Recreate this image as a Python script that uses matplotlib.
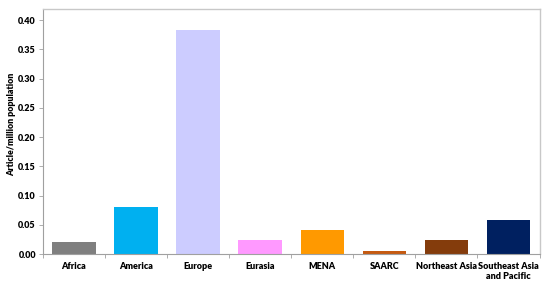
import matplotlib.pyplot as plt
import numpy as np

regions = ["Africa", "America", "Europe", "Eurasia", "MENA", "SAARC",
           "Northeast Asia", "Southeast Asia\nand Pacific"]
articles_per_million = [0.0205, 0.080, 0.383, 0.0245, 0.041, 0.005, 0.0245, 0.0575]
bar_colors = ["#7f7f7f", "#00b0f0", "#ccccff", "#ff99ff", "#ff9900",
              "#c55a11", "#843c0c", "#002060"]

plt.rcParams['font.family'] = ['Lato', 'DejaVu Sans']

fig = plt.figure(figsize=(5.5, 2.84), dpi=100)
ax = fig.add_axes([0.078, 0.1056, 0.903, 0.8644])

x = np.arange(len(regions))
ax.bar(x, articles_per_million, width=0.7, color=bar_colors)

ax.set_xlim(-0.5, len(regions) - 0.5)
ax.set_ylim(0, 0.42)
ax.set_yticks(np.arange(0, 0.41, 0.05))
ax.set_yticklabels(["%.2f" % v for v in np.arange(0, 0.41, 0.05)],
                   fontsize=6.5, fontweight='heavy')
ax.set_xticks(x)
ax.set_xticklabels(regions, fontsize=6.5, fontweight='heavy', linespacing=1.1)
ax.tick_params(axis='x', length=0, pad=6)
ax.tick_params(axis='y', length=3, width=0.6, color='#a0a0a0', pad=2)

# Excel-style ticks between categories
ax.set_xticks(np.arange(-0.5, len(regions), 1), minor=True)
ax.tick_params(axis='x', which='minor', length=3, width=0.6, color='#a0a0a0')

ax.set_ylabel("Article/million population", fontsize=6.3, fontweight='heavy', labelpad=2)
ax.yaxis.set_label_coords(-0.054, 0.53)

for side in ['left', 'bottom']:
    ax.spines[side].set_color('#a0a0a0')
    ax.spines[side].set_linewidth(0.8)
for side in ['top', 'right']:
    ax.spines[side].set_color('#c8c8c8')
    ax.spines[side].set_linewidth(1.0)

fig.savefig("out.png", dpi=100)
